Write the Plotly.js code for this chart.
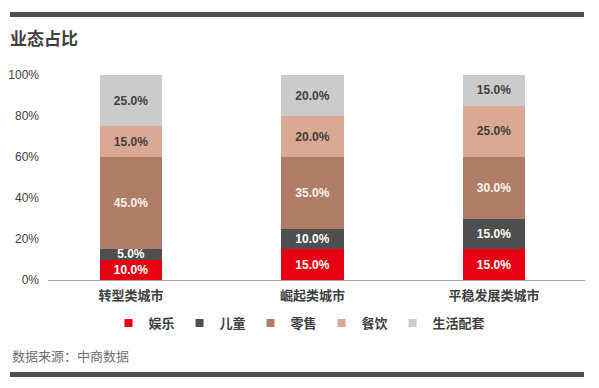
<!DOCTYPE html>
<html>
<head>
<meta charset="utf-8">
<script src="https://cdn.plot.ly/plotly-3.0.1.min.js"></script>
<style>html,body{margin:0;padding:0;background:#fff;}#chart{width:599px;height:388px;}</style>
</head>
<body>
<div id="chart"></div>
<script>
const categories = ['转型类城市', '崛起类城市', '平稳发展类城市'];
const seriesNames = ['娱乐', '儿童', '零售', '餐饮', '生活配套'];
const yule = [10, 15, 15];
const ertong = [5, 10, 15];
const lingshou = [45, 35, 30];
const canyin = [15, 20, 25];
const shenghuo = [25, 20, 15];
const yTickVals = [0, 20, 40, 60, 80, 100];
const yTickText = ['0%', '20%', '40%', '60%', '80%', '100%'];

const seriesValues = [yule, ertong, lingshou, canyin, shenghuo];
const colors = ['#E60012', '#4F4F4F', '#B07E67', '#D9A994', '#CBCBCB'];
const textColors = ['#FFFFFF', '#FFFFFF', '#FBF3EC', '#404040', '#404040'];

const CJK = '"Noto Sans CJK SC", "Liberation Sans", sans-serif';
const LAT = '"Liberation Sans", Arial, sans-serif';

const traces = [];
seriesValues.forEach((vals, i) => {
  traces.push({
    type: 'bar',
    x: categories,
    y: vals,
    name: seriesNames[i],
    marker: {color: colors[i], line: {width: 0}},
    texttemplate: '%{y:.1f}%',
    textposition: 'inside',
    insidetextanchor: 'middle',
    constraintext: 'none',
    textangle: 0,
    textfont: {family: LAT, size: 12, color: textColors[i], weight: 'bold'},
    hoverinfo: 'skip',
    showlegend: false
  });
});
seriesNames.forEach((n, i) => {
  traces.push({
    type: 'scatter',
    mode: 'markers',
    x: [null],
    y: [null],
    name: n,
    marker: {symbol: 'square', size: 8, color: colors[i]},
    showlegend: true,
    hoverinfo: 'skip'
  });
});

const L = 48, R = 585, T = 75, B = 280;
const px = v => (v - L) / (R - L);
const py = v => (B - v) / (B - T);

const layout = {
  width: 599,
  height: 388,
  margin: {l: L, r: 599 - R, t: T, b: 388 - B, pad: 0, autoexpand: false},
  paper_bgcolor: '#FFFFFF',
  plot_bgcolor: '#FFFFFF',
  barmode: 'stack',
  bargap: 0.658,
  showlegend: true,
  title: {
    text: '<b>业态占比</b>',
    font: {family: CJK, size: 17, color: '#404040'},
    xref: 'container', x: 10 / 599, xanchor: 'left',
    yref: 'container', y: 1 - 39 / 388, yanchor: 'middle'
  },
  xaxis: {
    type: 'category',
    range: [-0.457, 2.501],
    showgrid: false,
    zeroline: false,
    showline: true,
    linecolor: '#A6A6A6',
    linewidth: 1,
    ticks: '',
    tickangle: 0,
    ticklabelstandoff: 3,
    tickfont: {family: CJK, size: 13, color: '#404040', weight: 'bold'},
    fixedrange: true
  },
  yaxis: {
    range: [0, 100],
    tickvals: yTickVals,
    ticktext: yTickText,
    showgrid: false,
    zeroline: false,
    showline: false,
    ticks: '',
    ticklabelstandoff: 8,
    tickfont: {family: LAT, size: 12, color: '#404040'},
    fixedrange: true
  },
  legend: {
    orientation: 'h',
    traceorder: 'normal',
    xref: 'container', x: 0.5, xanchor: 'center',
    yref: 'paper', y: py(323), yanchor: 'middle',
    font: {family: CJK, size: 13, color: '#404040', weight: 'bold'},
    itemwidth: 30,
    tracegroupgap: 0,
    bgcolor: 'rgba(0,0,0,0)'
  },
  shapes: [
    {type: 'rect', xref: 'paper', yref: 'paper', x0: px(10), x1: px(584), y0: py(17), y1: py(12), fillcolor: '#505050', line: {width: 0}},
    {type: 'rect', xref: 'paper', yref: 'paper', x0: px(10), x1: px(584), y0: py(377), y1: py(372), fillcolor: '#505050', line: {width: 0}}
  ],
  annotations: [
    {text: '数据来源：中商数据', xref: 'paper', yref: 'paper', x: px(10), y: py(355), xanchor: 'left', yanchor: 'middle', showarrow: false, font: {family: CJK, size: 13, color: '#707070'}}
  ]
};

Plotly.newPlot('chart', traces, layout, {displayModeBar: false, staticPlot: true});
</script>
</body>
</html>
